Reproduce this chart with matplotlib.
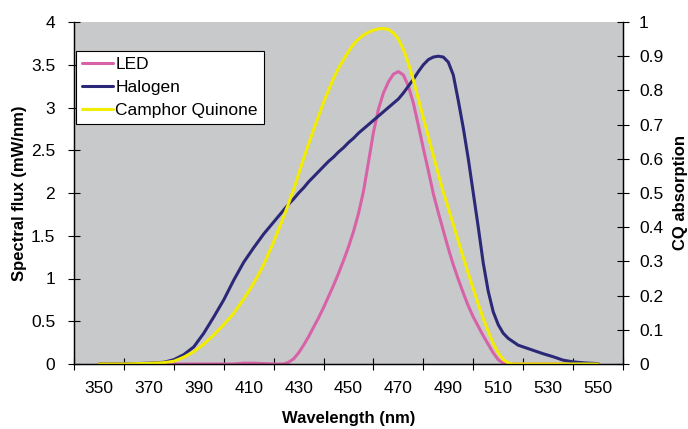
import matplotlib

matplotlib.use("Agg")

import matplotlib.pyplot as plt

plt.rcParams["font.family"] = ["Liberation Sans", "DejaVu Sans"]

wavelength = [350, 360, 370, 376, 380, 384, 388, 392, 396, 400, 404, 408, 412, 416, 420,
              424, 426, 428, 430, 432, 434, 436, 438, 440, 442, 444, 446, 448, 450,
              452, 454, 456, 458, 460, 462, 464, 466, 468, 470, 472, 474, 476, 478,
              480, 482, 484, 486, 488, 490, 492, 494, 496, 498, 500, 502, 504, 506,
              508, 510, 512, 514, 516, 518, 520, 524, 528, 532, 536, 540, 545, 550]

led = [0, 0, 0, 0, 0, 0, 0, 0, 0, 0, 0, 0.01, 0.01, 0.005, 0,
       0, 0.02, 0.06, 0.13, 0.22, 0.32, 0.43, 0.54, 0.66, 0.79, 0.92, 1.06, 1.21, 1.37,
       1.55, 1.76, 2.02, 2.36, 2.71, 2.98, 3.17, 3.3, 3.39, 3.42, 3.38, 3.25, 3.05, 2.79,
       2.52, 2.26, 1.99, 1.77, 1.56, 1.35, 1.16, 0.99, 0.83, 0.68, 0.55, 0.44, 0.33, 0.23,
       0.13, 0.05, 0.01, 0, 0, 0, 0, 0, 0, 0, 0, 0, 0, 0]

halogen = [0, 0, 0.01, 0.02, 0.05, 0.11, 0.2, 0.36, 0.55, 0.75, 0.98, 1.19, 1.36, 1.52, 1.66,
           1.8, 1.87, 1.93, 2.0, 2.06, 2.13, 2.19, 2.25, 2.31, 2.37, 2.42, 2.48, 2.53, 2.59,
           2.64, 2.7, 2.75, 2.8, 2.85, 2.9, 2.95, 3.0, 3.05, 3.1, 3.17, 3.25, 3.33, 3.42,
           3.5, 3.56, 3.59, 3.6, 3.59, 3.53, 3.38, 3.08, 2.76, 2.4, 2.0, 1.6, 1.18, 0.85,
           0.61, 0.46, 0.36, 0.3, 0.26, 0.22, 0.2, 0.16, 0.12, 0.085, 0.045, 0.025, 0.012, 0.005]

cq_absorption = [0, 0, 0.002, 0.004, 0.008, 0.02, 0.036, 0.058, 0.085, 0.115, 0.148, 0.19, 0.236, 0.29, 0.357,
                 0.43, 0.47, 0.51, 0.555, 0.6, 0.643, 0.685, 0.725, 0.765, 0.8, 0.835, 0.865, 0.89, 0.914,
                 0.935, 0.95, 0.962, 0.97, 0.976, 0.98, 0.981, 0.978, 0.968, 0.95, 0.92, 0.88, 0.83, 0.775,
                 0.72, 0.665, 0.61, 0.555, 0.503, 0.456, 0.408, 0.36, 0.312, 0.265, 0.22, 0.175, 0.133, 0.095,
                 0.06, 0.033, 0.013, 0.003, 0, 0, 0, 0, 0, 0, 0, 0, 0, 0]

flux_ticks = [0, 0.5, 1, 1.5, 2, 2.5, 3, 3.5, 4]
flux_labels = ["0", "0.5", "1", "1.5", "2", "2.5", "3", "3.5", "4"]
cq_ticks = [0, 0.1, 0.2, 0.3, 0.4, 0.5, 0.6, 0.7, 0.8, 0.9, 1]
cq_labels = ["0", "0.1", "0.2", "0.3", "0.4", "0.5", "0.6", "0.7", "0.8", "0.9", "1"]
wl_labels = [350, 370, 390, 410, 430, 450, 470, 490, 510, 530, 550]

fig = plt.figure(figsize=(6.88, 4.29), dpi=100)
ax = fig.add_axes([74 / 688, 1 - 364 / 429, (623 - 74) / 688, (364 - 22) / 429])
ax.set_facecolor("#c8c9cb")

line_led, = ax.plot(wavelength, led, color="#d862a8", lw=2.2, label="LED",
                    solid_joinstyle="round", solid_capstyle="round")
line_hal, = ax.plot(wavelength, halogen, color="#2b2878", lw=2.2, label="Halogen",
                    solid_joinstyle="round", solid_capstyle="round")
ax.set_xlim(340, 560)
ax.set_ylim(0, 4)

ax2 = ax.twinx()
line_cq, = ax2.plot(wavelength, cq_absorption, color="#f2ec00", lw=2.2,
                    label="Camphor Quinone", solid_joinstyle="round", solid_capstyle="round")
ax2.set_ylim(0, 1)

ax.set_xticks(range(340, 561, 20))
ax.set_xticklabels([])
ax.set_xticks(wl_labels, minor=True)
ax.set_xticklabels([str(v) for v in wl_labels], minor=True)
ax.tick_params(axis="x", which="major", direction="inout", length=9, width=0.8)
ax.tick_params(axis="x", which="minor", length=0, labelsize=12.5, pad=12)

ax.set_yticks(flux_ticks)
ax.set_yticklabels(flux_labels)
ax.tick_params(axis="y", direction="inout", length=9, width=0.8, labelsize=12.5, pad=9)
ax2.set_yticks(cq_ticks)
ax2.set_yticklabels(cq_labels)
ax2.tick_params(axis="y", direction="inout", length=9, width=0.8, labelsize=12.5, pad=7)

for a in (ax, ax2):
    a.spines["top"].set_visible(False)
    for side in ("left", "right", "bottom"):
        a.spines[side].set_linewidth(0.9)

ax.set_xlabel("Wavelength (nm)", fontsize=12, fontweight="bold", labelpad=11)
ax.set_ylabel("Spectral flux (mW/nm)", fontsize=12, fontweight="bold", labelpad=3)
ax2.set_ylabel("CQ absorption", fontsize=12, fontweight="bold", labelpad=7)

leg = ax2.legend(handles=[line_led, line_hal, line_cq], loc="upper left",
                 bbox_to_anchor=(0.004, 0.915), fontsize=12.5, frameon=True,
                 fancybox=False, edgecolor="black", framealpha=1,
                 handlelength=1.75, handletextpad=0.15, labelspacing=0.45,
                 borderpad=0.35, borderaxespad=0)
leg.get_frame().set_linewidth(0.8)

fig.savefig("out.png", dpi=100)
